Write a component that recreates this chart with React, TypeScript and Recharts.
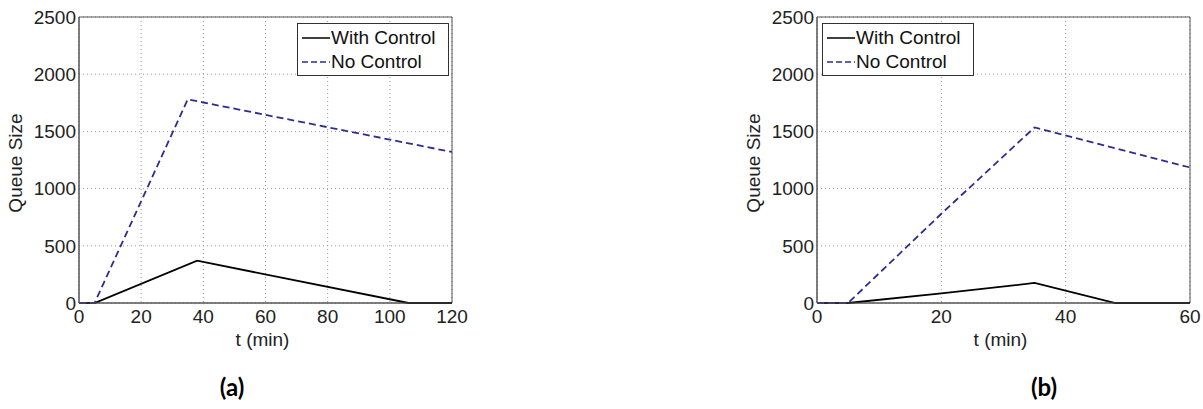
import { LineChart, Line, XAxis, YAxis, CartesianGrid, ReferenceArea, Legend } from 'recharts';

// panel (a)
const tWithA = [0, 5, 38, 106, 120];
const qWithA = [0, 0, 370, 0, 0];
const tNoA = [0, 5, 35, 120];
const qNoA = [0, 0, 1780, 1320];
const xTicksA = [0, 20, 40, 60, 80, 100, 120];

// panel (b)
const tWithB = [0, 5, 20, 35, 48, 60];
const qWithB = [0, 0, 85, 175, 0, 0];
const tNoB = [0, 5, 20, 35, 60];
const qNoB = [0, 0, 780, 1535, 1185];
const xTicksB = [0, 20, 40, 60];

const yTicks = [0, 500, 1000, 1500, 2000, 2500];
const seriesNames = ['With Control', 'No Control'];

const FONT = '"Liberation Sans", Arial, sans-serif';
const FS = 19;
const NAVY = '#2e2e8c';
const AXIS = '#555';

const toPoints = (t: number[], q: number[]) => t.map((x, i) => ({ t: x, q: q[i] }));

function LegendBox() {
  return (
    <div
      style={{
        border: '1px solid #333',
        background: '#fff',
        width: 152,
        height: 53,
        boxSizing: 'border-box',
        padding: '2px 0 0 4px',
        fontFamily: FONT,
        fontSize: FS,
        color: '#111',
        whiteSpace: 'nowrap',
      }}
    >
      {seriesNames.map((name, i) => (
        <div key={name} style={{ display: 'flex', alignItems: 'center', height: 24 }}>
          <svg width={28} height={10} style={{ marginRight: 1, flex: 'none' }}>
            <line
              x1={0}
              y1={5}
              x2={28}
              y2={5}
              stroke={i === 0 ? '#000' : NAVY}
              strokeWidth={1.5}
              strokeDasharray={i === 0 ? undefined : '6 3'}
            />
          </svg>
          <span>{name}</span>
        </div>
      ))}
    </div>
  );
}

function Panel({
  withData,
  noData,
  xMax,
  xTicks,
  legendLeft,
  width,
}: {
  withData: { t: number; q: number }[];
  noData: { t: number; q: number }[];
  xMax: number;
  xTicks: number[];
  legendLeft: number;
  width: number;
}) {
  const tick = { fontSize: FS, fill: '#222', fontFamily: FONT };
  return (
    <LineChart width={width} height={350} margin={{ top: 17, right: width - 79 - 373, left: 0, bottom: 0 }}>
      <CartesianGrid stroke="#999" strokeDasharray="1 3" />
      <XAxis
        dataKey="t"
        type="number"
        domain={[0, xMax]}
        ticks={xTicks}
        allowDataOverflow
        height={47}
        stroke={AXIS}
        tickLine={false}
        tickSize={0}
        tickMargin={7}
        tick={tick}
        label={{
          content: (p: any) => (
            <text
              x={p.viewBox.x + p.viewBox.width / 2 - 3}
              y={p.viewBox.y + 36}
              textAnchor="middle"
              dominantBaseline="central"
              fontSize={FS}
              fontFamily={FONT}
              fill="#222"
            >
              t (min)
            </text>
          ),
        }}
      />
      <YAxis
        type="number"
        domain={[0, 2500]}
        ticks={yTicks}
        width={79}
        stroke={AXIS}
        tickLine={false}
        tickSize={0}
        tickMargin={3}
        tick={tick}
        label={{
          content: (p: any) => {
            const x = p.viewBox.x + 15;
            const y = p.viewBox.y + p.viewBox.height / 2 + 3;
            return (
              <text
                x={x}
                y={y}
                transform={`rotate(-90 ${x} ${y})`}
                textAnchor="middle"
                dominantBaseline="central"
                fontSize={FS}
                fontFamily={FONT}
                fill="#222"
              >
                Queue Size
              </text>
            );
          },
        }}
      />
      <ReferenceArea x1={0} x2={xMax} y1={0} y2={2500} fill="none" stroke={AXIS} strokeWidth={1} />
      <Line
        data={withData}
        dataKey="q"
        name={seriesNames[0]}
        type="linear"
        stroke="#000"
        strokeWidth={1.8}
        dot={false}
        isAnimationActive={false}
      />
      <Line
        data={noData}
        dataKey="q"
        name={seriesNames[1]}
        type="linear"
        stroke={NAVY}
        strokeWidth={1.8}
        strokeDasharray="7 4"
        dot={false}
        isAnimationActive={false}
      />
      <Legend
        layout="horizontal"
        verticalAlign="middle"
        content={() => <LegendBox />}
        wrapperStyle={{ left: legendLeft, top: 23, width: 152, height: 53 }}
      />
    </LineChart>
  );
}

const captionStyle: React.CSSProperties = {
  position: 'absolute',
  top: 372,
  width: 60,
  textAlign: 'center',
  fontFamily: 'Lato, "Open Sans", sans-serif',
  fontWeight: 700,
  fontSize: 24,
  color: '#000',
};

export default function App() {
  return (
    <div style={{ position: 'absolute', left: 0, top: 0, width: 1203, height: 409, background: '#fff' }}>
      <div style={{ position: 'absolute', left: 0, top: 0 }}>
        <Panel
          withData={toPoints(tWithA, qWithA)}
          noData={toPoints(tNoA, qNoA)}
          xMax={120}
          xTicks={xTicksA}
          legendLeft={297}
          width={470}
        />
      </div>
      <div style={{ position: 'absolute', left: 738, top: 0 }}>
        <Panel
          withData={toPoints(tWithB, qWithB)}
          noData={toPoints(tNoB, qNoB)}
          xMax={60}
          xTicks={xTicksB}
          legendLeft={84}
          width={465}
        />
      </div>
      <div style={{ ...captionStyle, left: 202 }}>(a)</div>
      <div style={{ ...captionStyle, left: 1014 }}>(b)</div>
    </div>
  );
}
